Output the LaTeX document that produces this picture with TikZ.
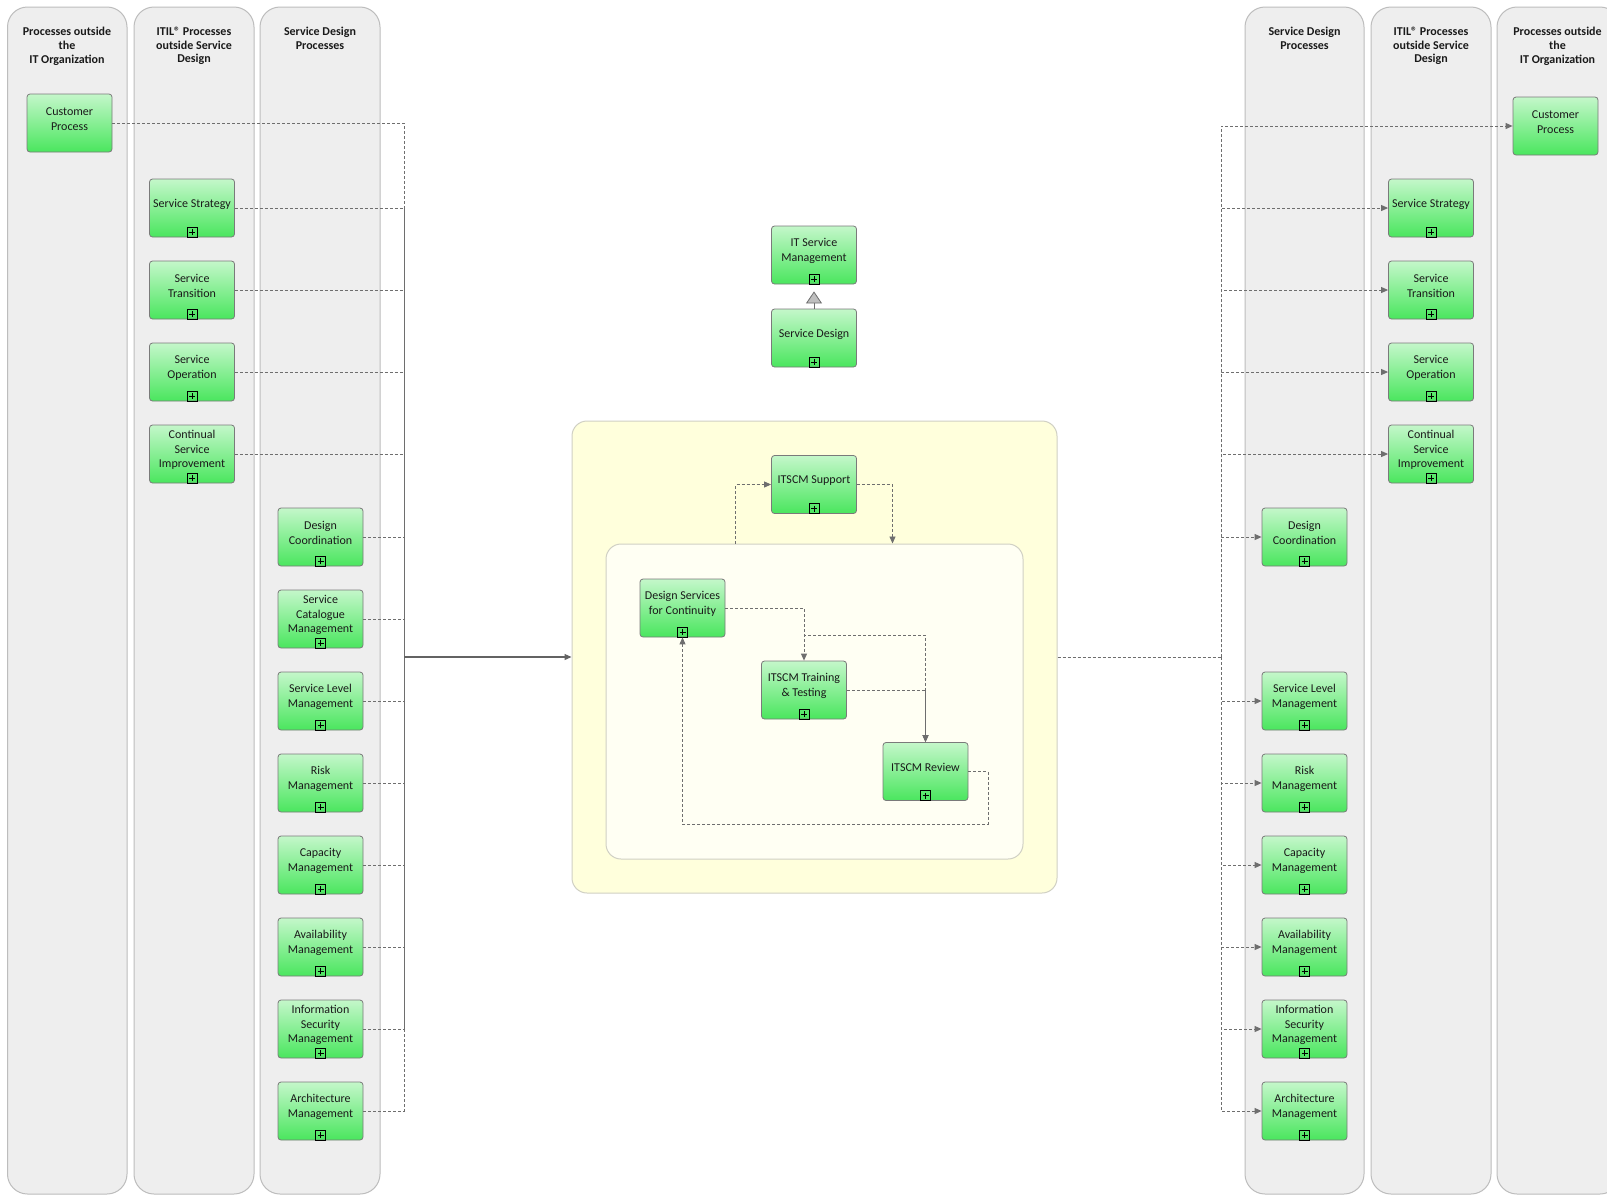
\documentclass[tikz,border=0pt]{standalone}
\usepackage{fontspec}
\setmainfont{Carlito}
\usetikzlibrary{arrows.meta,calc}
\definecolor{lanefill}{HTML}{EEEEEE}
\definecolor{lanedraw}{HTML}{BDBDBD}
\definecolor{gtop}{HTML}{C4F7CA}
\definecolor{gbot}{HTML}{4AE65E}
\definecolor{boxdraw}{HTML}{7A7A7A}
\definecolor{conncol}{HTML}{6E6E6E}
\definecolor{yfill}{HTML}{FFFFDC}
\definecolor{ifill}{HTML}{FFFFF3}
\definecolor{ydraw}{HTML}{D0D0C4}
\definecolor{txt}{HTML}{1A1A1A}
\newcommand\proc[4]{%
  \node[pbox] (#1) at (#2,#3) {};
  \node[ptext] (#1t) at ([yshift=4pt]#1.center) {#4};
  \node[plusic] (#1p) at (#1.south) {};}
\newcommand\procnp[4]{%
  \node[pbox] (#1) at (#2,#3) {};
  \node[ptext] (#1t) at ([yshift=4pt]#1.center) {#4};}
\begin{document}
\begin{tikzpicture}[x=1pt,y=-1pt,
  lane/.style={fill=lanefill,draw=lanedraw,line width=1pt,rounded corners=20pt},
  lanehead/.style={font=\bfseries\fontsize{12}{13.7}\selectfont,align=center,inner sep=0pt,anchor=north,text=txt},
  pbox/.style={draw=boxdraw,line width=0.8pt,rounded corners=3pt,top color=gtop,bottom color=gbot,minimum width=85pt,minimum height=58pt,inner sep=0pt},
  ptext/.style={font=\fontsize{12}{14.5}\selectfont,align=center,inner sep=0pt,text=txt},
  plusic/.style={draw=black,line width=0.7pt,minimum size=10pt,inner sep=0pt,anchor=south,
    path picture={\draw[line width=0.6pt] ([xshift=2pt]path picture bounding box.west) -- ([xshift=-2pt]path picture bounding box.east) ([yshift=-2pt]path picture bounding box.north) -- ([yshift=2pt]path picture bounding box.south);}},
  conn/.style={draw=conncol,line width=0.9pt,dash pattern=on 3pt off 2pt},
  solidc/.style={draw=conncol!90!black,line width=1.2pt},
  arr/.style={-{Triangle[length=7pt,width=6pt]}},
]
\useasboundingbox (0,0) rectangle (1607,1195);
\clip (0,0) rectangle (1607,1195);
\fill[white] (0,0) rectangle (1607,1195);

% lanes
\path[lane] (7.5,7) rectangle (127,1194);
\path[lane] (134,7) rectangle (254,1194);
\path[lane] (260,7) rectangle (380,1194);
\path[lane] (1245,7) rectangle (1364,1194);
\path[lane] (1371,7) rectangle (1491,1194);
\path[lane] (1497,7) rectangle (1620,1194);
\node[lanehead] (h1) at (67,27) {Processes outside\\the\\IT Organization};
\node[lanehead] (h2) at (194,27) {ITIL® Processes\\outside Service\\Design};
\node[lanehead] (h3) at (320,27) {Service Design\\Processes};
\node[lanehead] (h4) at (1304.5,27) {Service Design\\Processes};
\node[lanehead] (h5) at (1431,27) {ITIL® Processes\\outside Service\\Design};
\node[lanehead] (h6) at (1557.5,27) {Processes outside\\the\\IT Organization};

% containers
\node[draw=ydraw,fill=yfill,rounded corners=15pt,minimum width=485pt,minimum height=472pt,line width=1pt,inner sep=0pt] (cont) at (814.5,657) {};
\node[draw=ydraw,fill=ifill,rounded corners=15pt,minimum width=417pt,minimum height=315pt,line width=1pt,inner sep=0pt] (inner) at (814.5,701.5) {};

% left boxes
\procnp{lcp}{69.5}{123}{Customer\\Process}
\proc{lss}{192}{208}{Service Strategy}
\proc{lst}{192}{290}{Service\\Transition}
\proc{lso}{192}{372}{Service\\Operation}
\proc{lcsi}{192}{454}{Continual\\Service\\Improvement}
\proc{ldc}{320.5}{537}{Design\\Coordination}
\proc{lscm}{320.5}{619}{Service\\Catalogue\\Management}
\proc{lslm}{320.5}{701}{Service Level\\Management}
\proc{lrm}{320.5}{783}{Risk\\Management}
\proc{lcm}{320.5}{865}{Capacity\\Management}
\proc{lam}{320.5}{947}{Availability\\Management}
\proc{lism}{320.5}{1029}{Information\\Security\\Management}
\proc{larch}{320.5}{1111}{Architecture\\Management}

% right boxes
\procnp{rcp}{1555.5}{126}{Customer\\Process}
\proc{rss}{1431}{208}{Service Strategy}
\proc{rst}{1431}{290}{Service\\Transition}
\proc{rso}{1431}{372}{Service\\Operation}
\proc{rcsi}{1431}{454}{Continual\\Service\\Improvement}
\proc{rdc}{1304.5}{537}{Design\\Coordination}
\proc{rslm}{1304.5}{701}{Service Level\\Management}
\proc{rrm}{1304.5}{783}{Risk\\Management}
\proc{rcm}{1304.5}{865}{Capacity\\Management}
\proc{ram}{1304.5}{947}{Availability\\Management}
\proc{rism}{1304.5}{1029}{Information\\Security\\Management}
\proc{rarch}{1304.5}{1111}{Architecture\\Management}

% top centre
\proc{itsm}{814}{255}{IT Service\\Management}
\proc{sd}{814}{338}{Service Design}
\draw[draw=conncol,line width=0.8pt,-{Triangle[open,length=12pt,width=16pt,fill=black!25]},shorten >=7pt] (sd.north) -- (itsm.south);

% inside container
\proc{sup}{814}{484.5}{ITSCM Support}
\proc{dsc}{682.5}{608}{Design Services\\for Continuity}
\proc{trn}{804}{690}{ITSCM Training\\\& Testing}
\proc{rev}{925.5}{771.5}{ITSCM Review}

% left connectors
\coordinate (busL) at (404,657);
\foreach \n in {lcp,lss,lst,lso,lcsi,ldc,lscm,lslm,lrm,lcm,lam,lism,larch}
  \draw[conn] (\n.east) -| (busL);
\draw[solidc,arr] (busL) -- (cont.west);

% right connectors
\coordinate (busR) at (1221,657);
\draw[conn] (cont.east) -- (busR);
\foreach \n in {rcp,rss,rst,rso,rcsi,rdc,rslm,rrm,rcm,ram,rism,rarch}
  \draw[conn,arr] (busR) |- (\n.west);

% inner connectors
\draw[conn,arr] ([xshift=130pt]inner.north west) |- (sup.west);
\draw[conn,arr] (sup.east) -| ([xshift=287pt]inner.north west);
\draw[conn,arr] (dsc.east) -| (trn.north);
\coordinate (j1) at (804,635);
\draw[conn,arr] (dsc.east) -| (j1) -| (rev.north);
\draw[conn,arr] (trn.east) -| (rev.north);
\coordinate (j2) at (988,824);
\draw[conn,arr] (rev.east) -| (j2) -| (dsc.south);
\end{tikzpicture}
\end{document}
